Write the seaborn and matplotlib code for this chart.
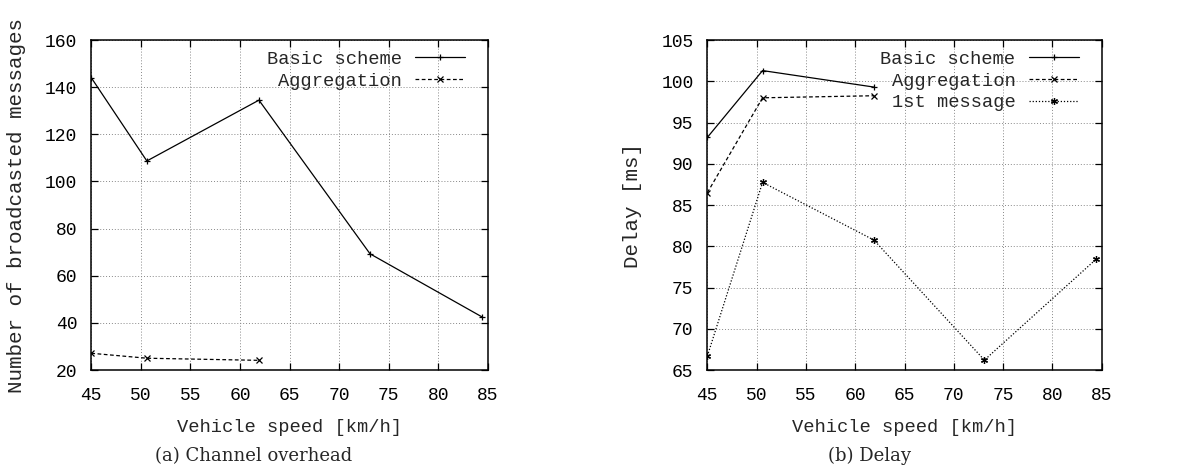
import numpy as np
import pandas as pd
import matplotlib
matplotlib.use("Agg")
import matplotlib.pyplot as plt
import seaborn as sns

# data
speed = [45.0, 50.6, 61.9, 73.1, 84.4]
overhead_basic = [144.0, 108.7, 134.5, 69.3, 42.5]
overhead_aggr = [27.1, 25.0, 24.1]
delay_basic = [93.2, 101.3, 99.3]
delay_aggr = [86.5, 98.0, 98.25]
delay_first = [66.7, 87.75, 80.75, 66.2, 78.4]

sns.set_style("ticks")
plt.rcParams['font.family'] = ['Liberation Mono', 'DejaVu Sans Mono']
plt.rcParams['xtick.direction'] = 'in'
plt.rcParams['ytick.direction'] = 'in'

fig = plt.figure(figsize=(12.03, 4.68), dpi=100)
ax1 = fig.add_axes([0.0759, 0.2094, 0.3298, 0.705])
ax2 = fig.add_axes([0.588, 0.2094, 0.3278, 0.705])

line_kw = dict(color='black', linewidth=0.9, markersize=5, markeredgewidth=0.9,
               markeredgecolor='black', markerfacecolor='black')
ast = (6, 2, 0)


def style_axes(ax, ylim, yticks, ylabel):
    ax.set_xlim(45, 85)
    ax.set_xticks(range(45, 90, 5))
    ax.set_ylim(*ylim)
    ax.set_yticks(yticks)
    ax.grid(True, linestyle=(0, (1, 2)), color='#888888', linewidth=0.7)
    ax.set_axisbelow(True)
    for s in ax.spines.values():
        s.set_visible(True)
        s.set_linewidth(1.1)
        s.set_color('black')
    ax.tick_params(axis='both', which='both', top=True, right=True,
                   length=5, width=0.9, labelsize=13, pad=12, colors='black')
    ax.tick_params(axis='y', pad=10)
    ax.set_xlabel('Vehicle speed [km/h]', fontsize=13.5, labelpad=11)
    ax.set_ylabel(ylabel, fontsize=15, labelpad=14)


def add_legend(ax):
    ax.legend(loc='upper right', bbox_to_anchor=(0.962, 0.99), frameon=False, markerfirst=False,
              fontsize=13.5, handlelength=2.7, handletextpad=0.7, labelspacing=0.24,
              borderaxespad=0.0)


# (a) channel overhead
sns.lineplot(x=speed, y=overhead_basic, ax=ax1, linestyle='-', marker='+',
             label='Basic scheme', **line_kw)
sns.lineplot(x=speed[:len(overhead_aggr)], y=overhead_aggr, ax=ax1, linestyle=(0, (3, 2)),
             marker='x', label='Aggregation', **line_kw)
style_axes(ax1, (20, 160), range(20, 161, 20), 'Number of broadcasted messages')
add_legend(ax1)

# (b) delay
sns.lineplot(x=speed[:len(delay_basic)], y=delay_basic, ax=ax2, linestyle='-', marker='+',
             label='Basic scheme', **line_kw)
sns.lineplot(x=speed[:len(delay_aggr)], y=delay_aggr, ax=ax2, linestyle=(0, (3, 2)),
             marker='x', label='Aggregation', **line_kw)
sns.lineplot(x=speed, y=delay_first, ax=ax2, linestyle=(0, (1, 1.5)), marker=ast,
             label='1st message', **line_kw)
style_axes(ax2, (65, 105), range(65, 106, 5), 'Delay [ms]')
add_legend(ax2)

fig.text(0.2109, 0.006, '(a) Channel overhead', family='DejaVu Serif', fontsize=13,
         ha='center', va='bottom')
fig.text(0.7224, 0.006, '(b) Delay', family='DejaVu Serif', fontsize=13,
         ha='center', va='bottom')

fig.savefig('out.png', dpi=100)
